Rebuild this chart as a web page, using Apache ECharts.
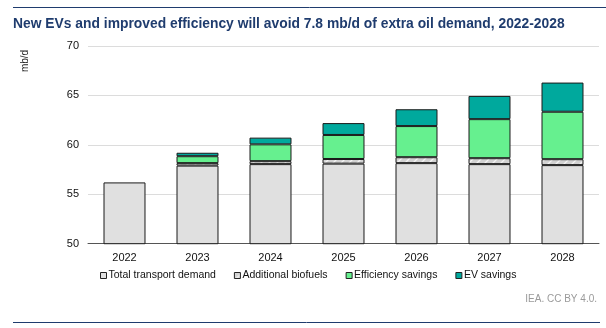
<!DOCTYPE html>
<html>
<head>
<meta charset="utf-8">
<script src="https://cdn.jsdelivr.net/npm/echarts@6/dist/echarts.min.js"></script>
<style>
  html, body { margin: 0; padding: 0; background: #fff; }
  #chart { width: 606px; height: 328px; }
</style>
</head>
<body>
<div id="chart"></div>
<script>
// Transport oil demand outlook (mb/d); null = no segment in the base year
const years = ['2022', '2023', '2024', '2025', '2026', '2027', '2028'];
const totalTransport = [56.2, 57.9, 58.05, 58.1, 58.15, 58.05, 57.95];
const additionalBiofuels = [null, 0.25, 0.3, 0.47, 0.6, 0.6, 0.6];
const efficiencySavings = [null, 0.7, 1.7, 2.43, 3.15, 3.95, 4.8];
const evSavings = [null, 0.35, 0.68, 1.2, 1.7, 2.35, 2.95];
const yTicks = { min: 50, max: 70, step: 5 };

const FONT = '"Liberation Sans", Arial, sans-serif';
const TITLE_BLUE = '#1f3c6e';

// Hatched fill for the biofuels segment
function hatchPattern() {
  const c = document.createElement('canvas');
  c.width = 8; c.height = 8;
  const g = c.getContext('2d');
  g.fillStyle = '#d2d2d2';
  g.fillRect(0, 0, 8, 8);
  g.strokeStyle = '#f4f4f4';
  g.lineWidth = 1.3;
  g.beginPath();
  g.moveTo(0, 8); g.lineTo(8, 0);
  g.moveTo(-2, 2); g.lineTo(2, -2);
  g.moveTo(6, 10); g.lineTo(10, 6);
  g.stroke();
  return c;
}

const border = { borderColor: '#1a1a1a', borderWidth: 1 };

const chart = echarts.init(document.getElementById('chart'), null, { renderer: 'canvas' });

chart.setOption({
  animation: false,
  textStyle: { fontFamily: FONT },
  title: {
    text: 'New EVs and improved efficiency will avoid 7.8 mb/d of extra oil demand, 2022-2028',
    left: 8, top: 12,
    textStyle: { fontFamily: FONT, fontSize: 13.85, fontWeight: 'bold', color: TITLE_BLUE }
  },
  grid: { left: 88, right: 7, top: 46, bottom: 84.3 },
  legend: {
    left: 95, top: 265,
    icon: 'rect', itemWidth: 6, itemHeight: 6, itemGap: 18,
    textStyle: { fontFamily: FONT, fontSize: 10.5, color: '#111', padding: [0, 0, 0, -3] },
    itemStyle: { borderColor: '#222', borderWidth: 1 },
    data: ['Total transport demand', 'Additional biofuels', 'Efficiency savings', 'EV savings']
  },
  xAxis: {
    type: 'category',
    data: years,
    axisTick: { show: false },
    axisLine: { lineStyle: { color: '#555', width: 1 } },
    axisLabel: { fontFamily: FONT, fontSize: 11, color: '#111', margin: 9 }
  },
  yAxis: {
    type: 'value',
    min: yTicks.min, max: yTicks.max, interval: yTicks.step,
    axisLine: { show: false },
    axisTick: { show: false },
    axisLabel: { fontFamily: FONT, fontSize: 11, color: '#111', margin: 9 },
    splitLine: { lineStyle: { color: '#dcdcdc', width: 1 } }
  },
  graphic: [
    { type: 'line', shape: { x1: 13, y1: 7.5, x2: 606, y2: 7.5 }, style: { stroke: TITLE_BLUE, lineWidth: 1 } },
    { type: 'line', shape: { x1: 13, y1: 322.5, x2: 600, y2: 322.5 }, style: { stroke: TITLE_BLUE, lineWidth: 1 } },
    { type: 'text', x: 25, y: 61, rotation: Math.PI / 2,
      style: { text: 'mb/d', fontFamily: FONT, fontSize: 10, fill: '#222', textAlign: 'center', textVerticalAlign: 'middle' } },
    { type: 'text', right: 9, top: 294,
      style: { text: 'IEA. CC BY 4.0.', fontFamily: FONT, fontSize: 10, fill: '#9a9a9a' } }
  ],
  series: [
    { name: 'Total transport demand', type: 'bar', stack: 'd', barWidth: '57.5%',
      itemStyle: Object.assign({ color: '#e0e0e0' }, border), data: totalTransport },
    { name: 'Additional biofuels', type: 'bar', stack: 'd',
      itemStyle: Object.assign({ color: { image: hatchPattern(), repeat: 'repeat' } }, border), data: additionalBiofuels },
    { name: 'Efficiency savings', type: 'bar', stack: 'd',
      itemStyle: Object.assign({ color: '#66f08f' }, border), data: efficiencySavings },
    { name: 'EV savings', type: 'bar', stack: 'd',
      itemStyle: Object.assign({ color: '#00a99d' }, border), data: evSavings }
  ]
});
</script>
</body>
</html>
